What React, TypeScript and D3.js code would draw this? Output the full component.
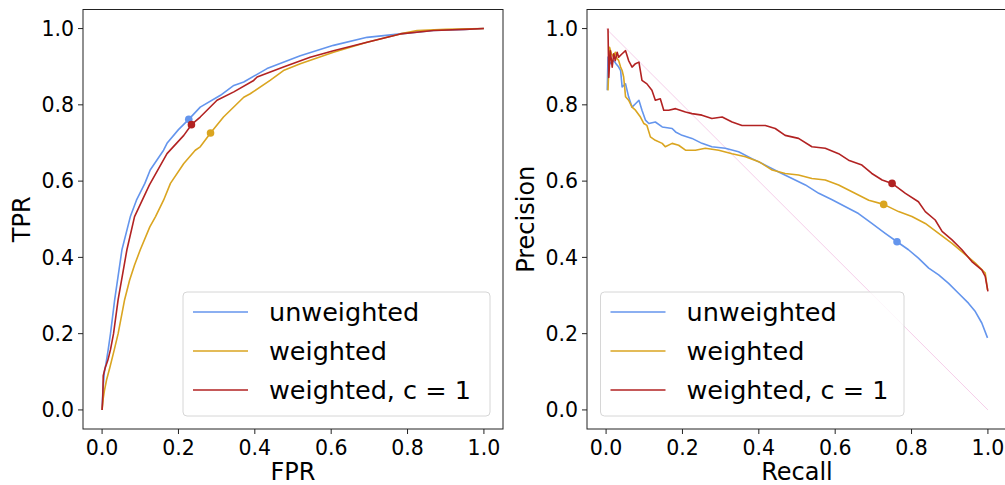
import React from "react";
import * as d3 from "d3";

type Pt = [number, number];

const seriesNames = ["unweighted", "weighted", "weighted, c = 1"];
const seriesColors = ["#6495ED", "#DAA520", "#B22222"];
const tickValues = [0, 0.2, 0.4, 0.6, 0.8, 1.0];

// ROC curves: [FPR, TPR]
const rocUnweighted: Pt[] = [
  [0, 0], [0.002, 0.05], [0.006, 0.1], [0.01, 0.12], [0.016, 0.158], [0.022, 0.2],
  [0.033, 0.289], [0.052, 0.42], [0.074, 0.507], [0.09, 0.55], [0.112, 0.594],
  [0.126, 0.629], [0.161, 0.681], [0.17, 0.699], [0.2, 0.735], [0.227, 0.762],
  [0.257, 0.794], [0.31, 0.825], [0.345, 0.851], [0.371, 0.86], [0.432, 0.895],
  [0.519, 0.929], [0.606, 0.956], [0.694, 0.977], [0.781, 0.986], [0.868, 0.995],
  [0.95, 0.998], [1, 1],
];
const rocWeighted: Pt[] = [
  [0, 0], [0.003, 0.03], [0.006, 0.05], [0.012, 0.08], [0.02, 0.11], [0.032, 0.158],
  [0.042, 0.2], [0.059, 0.289], [0.072, 0.34], [0.085, 0.38], [0.1, 0.42],
  [0.125, 0.48], [0.14, 0.507], [0.161, 0.55], [0.179, 0.594], [0.214, 0.646],
  [0.244, 0.681], [0.257, 0.69], [0.284, 0.726], [0.318, 0.768], [0.371, 0.82],
  [0.388, 0.829], [0.44, 0.864], [0.475, 0.89], [0.519, 0.908], [0.606, 0.938],
  [0.694, 0.964], [0.781, 0.986], [0.825, 0.995], [0.9, 0.998], [1, 1],
];
const rocWeightedC1: Pt[] = [
  [0, 0], [0.002, 0.04], [0.003, 0.09], [0.008, 0.11], [0.015, 0.13], [0.022, 0.158],
  [0.03, 0.2], [0.042, 0.289], [0.065, 0.42], [0.085, 0.507], [0.124, 0.59],
  [0.17, 0.672], [0.214, 0.72], [0.234, 0.748], [0.257, 0.768], [0.301, 0.812],
  [0.345, 0.834], [0.397, 0.864], [0.406, 0.873], [0.475, 0.899], [0.545, 0.925],
  [0.606, 0.942], [0.694, 0.964], [0.781, 0.986], [0.868, 0.995], [0.95, 0.998], [1, 1],
];
const rocMarkers: Pt[] = [[0.227, 0.762], [0.284, 0.726], [0.234, 0.748]];

// PR curves: [Recall, Precision]
const prUnweighted: Pt[] = [
  [0.003, 0.838], [0.005, 0.925], [0.011, 0.908], [0.02, 0.916], [0.026, 0.908],
  [0.033, 0.899], [0.038, 0.89], [0.042, 0.847], [0.051, 0.855], [0.059, 0.821],
  [0.068, 0.794], [0.077, 0.803], [0.086, 0.812], [0.094, 0.786], [0.103, 0.76],
  [0.112, 0.751], [0.129, 0.755], [0.147, 0.742], [0.173, 0.738], [0.182, 0.729],
  [0.199, 0.72], [0.225, 0.712], [0.251, 0.699], [0.277, 0.69], [0.312, 0.686],
  [0.347, 0.677], [0.382, 0.659], [0.417, 0.642], [0.452, 0.624], [0.487, 0.607],
  [0.522, 0.59], [0.557, 0.568], [0.592, 0.551], [0.627, 0.533], [0.661, 0.515],
  [0.696, 0.489], [0.731, 0.463], [0.762, 0.441], [0.792, 0.42], [0.818, 0.398],
  [0.845, 0.372], [0.871, 0.354], [0.897, 0.332], [0.923, 0.306], [0.949, 0.28],
  [0.967, 0.258], [0.984, 0.228], [0.999, 0.189],
];
const prWeighted: Pt[] = [
  [0.005, 0.838], [0.009, 0.951], [0.014, 0.934], [0.02, 0.925], [0.024, 0.938],
  [0.029, 0.921], [0.033, 0.916], [0.038, 0.899], [0.042, 0.89], [0.046, 0.873],
  [0.051, 0.821], [0.059, 0.812], [0.068, 0.794], [0.077, 0.786], [0.09, 0.768],
  [0.099, 0.751], [0.107, 0.746], [0.116, 0.716], [0.129, 0.707], [0.147, 0.699],
  [0.155, 0.69], [0.173, 0.699], [0.19, 0.694], [0.208, 0.681], [0.234, 0.681],
  [0.26, 0.686], [0.295, 0.681], [0.33, 0.672], [0.365, 0.664], [0.4, 0.651],
  [0.435, 0.629], [0.469, 0.62], [0.504, 0.616], [0.539, 0.607], [0.574, 0.603],
  [0.609, 0.59], [0.644, 0.572], [0.688, 0.55], [0.727, 0.539], [0.766, 0.52],
  [0.801, 0.507], [0.836, 0.489], [0.871, 0.463], [0.906, 0.437], [0.941, 0.407],
  [0.967, 0.385], [0.993, 0.359], [0.999, 0.315],
];
const prWeightedC1: Pt[] = [
  [0.005, 1.0], [0.007, 0.872], [0.011, 0.942], [0.016, 0.899], [0.02, 0.934],
  [0.024, 0.916], [0.029, 0.938], [0.033, 0.925], [0.042, 0.934], [0.051, 0.942],
  [0.059, 0.916], [0.068, 0.899], [0.077, 0.908], [0.086, 0.912], [0.094, 0.864],
  [0.107, 0.855], [0.12, 0.838], [0.129, 0.812], [0.142, 0.816], [0.151, 0.786],
  [0.164, 0.786], [0.182, 0.79], [0.208, 0.781], [0.225, 0.777], [0.251, 0.773],
  [0.277, 0.764], [0.304, 0.768], [0.33, 0.755], [0.356, 0.746], [0.382, 0.746],
  [0.417, 0.746], [0.443, 0.738], [0.469, 0.72], [0.504, 0.712], [0.539, 0.69],
  [0.574, 0.686], [0.609, 0.672], [0.635, 0.655], [0.67, 0.642], [0.696, 0.62],
  [0.723, 0.603], [0.749, 0.594], [0.784, 0.568], [0.818, 0.546], [0.836, 0.52],
  [0.862, 0.498], [0.88, 0.468], [0.906, 0.446], [0.932, 0.42], [0.958, 0.389],
  [0.984, 0.367], [0.993, 0.35], [1.0, 0.311],
];
const prMarkers: Pt[] = [[0.762, 0.441], [0.727, 0.539], [0.749, 0.594]];
const prBaseline: Pt[] = [[0, 1], [1, 0]];

const FONT = "'DejaVu Sans', sans-serif";

interface PanelProps {
  left: number;
  xLabel: string;
  yLabel: string;
  curves: Pt[][];
  markers: Pt[];
  diagonal?: Pt[];
}

const TOP = 9.5;
const BOTTOM = 429;
const WIDTH = 420;

function Panel({ left, xLabel, yLabel, curves, markers, diagonal }: PanelProps) {
  const x = d3.scaleLinear().domain([-0.05, 1.05]).range([left, left + WIDTH]);
  const y = d3.scaleLinear().domain([-0.05, 1.05]).range([BOTTOM, TOP]);
  const line = d3
    .line<Pt>()
    .x((d) => x(d[0]))
    .y((d) => y(d[1]));
  return (
    <g>
      {diagonal && (
        <path d={line(diagonal) || ""} fill="none" stroke="#e377c2" strokeOpacity={0.6} strokeWidth={0.6} />
      )}
      {curves.map((c, i) => (
        <path key={i} d={line(c) || ""} fill="none" stroke={seriesColors[i]} strokeWidth={1.6} strokeLinejoin="round" />
      ))}
      {markers.map((m, i) => (
        <circle key={i} cx={x(m[0])} cy={y(m[1])} r={3.8} fill={seriesColors[i]} />
      ))}
      <rect x={left} y={TOP} width={WIDTH} height={BOTTOM - TOP} fill="none" stroke="#222" strokeWidth={1} />
      {tickValues.map((t) => (
        <g key={"x" + t}>
          <line x1={x(t)} x2={x(t)} y1={BOTTOM} y2={BOTTOM + 5} stroke="#222" strokeWidth={1} />
          <text x={x(t)} y={BOTTOM + 26} textAnchor="middle" fontSize={20.5} fontFamily={FONT} fill="#000">
            {t.toFixed(1)}
          </text>
        </g>
      ))}
      {tickValues.map((t) => (
        <g key={"y" + t}>
          <line x1={left - 5} x2={left} y1={y(t)} y2={y(t)} stroke="#222" strokeWidth={1} />
          <text x={left - 9} y={y(t)} dy="0.36em" textAnchor="end" fontSize={20.5} fontFamily={FONT} fill="#000">
            {t.toFixed(1)}
          </text>
        </g>
      ))}
      <text x={left + WIDTH / 2} y={480} textAnchor="middle" fontSize={24} fontFamily={FONT} fill="#000">
        {xLabel}
      </text>
      <text
        transform={`translate(${left - 53},${(TOP + BOTTOM) / 2}) rotate(-90)`}
        textAnchor="middle"
        fontSize={24}
        fontFamily={FONT}
        fill="#000"
      >
        {yLabel}
      </text>
    </g>
  );
}

function Legend({ x0, x1 }: { x0: number; x1: number }) {
  const rows = [312, 351, 390];
  return (
    <g>
      <rect x={x0} y={292} width={x1 - x0} height={124} rx={4} fill="#fff" fillOpacity={0.8} stroke="#d6d6d6" strokeWidth={1} />
      {seriesNames.map((n, i) => (
        <g key={n}>
          <line x1={x0 + 10} x2={x0 + 65} y1={rows[i]} y2={rows[i]} stroke={seriesColors[i]} strokeWidth={1.6} />
          <text x={x0 + 86} y={rows[i]} dy="0.36em" fontSize={25.5} fontFamily={FONT} fill="#000">
            {n}
          </text>
        </g>
      ))}
    </g>
  );
}

export default function App() {
  return (
    <svg width={1005} height={485} style={{ position: "absolute", left: 0, top: 0, background: "#fff" }}>
      <Panel
        left={83}
        xLabel="FPR"
        yLabel="TPR"
        curves={[rocUnweighted, rocWeighted, rocWeightedC1]}
        markers={rocMarkers}
      />
      <Legend x0={183} x1={490} />
      <Panel
        left={587}
        xLabel="Recall"
        yLabel="Precision"
        curves={[prUnweighted, prWeighted, prWeightedC1]}
        markers={prMarkers}
        diagonal={prBaseline}
      />
      <Legend x0={600.5} x1={904} />
    </svg>
  );
}
